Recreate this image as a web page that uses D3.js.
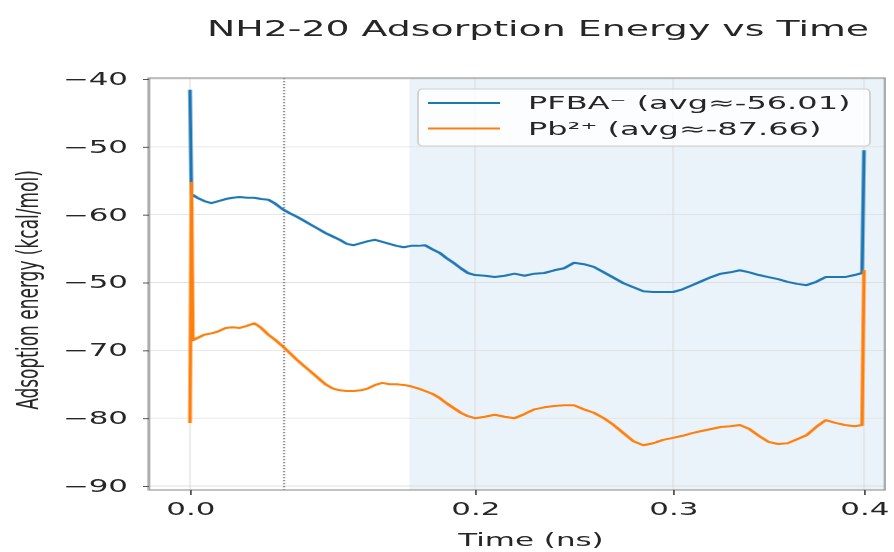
<!DOCTYPE html>
<html>
<head>
<meta charset="utf-8">
<script src="https://cdn.jsdelivr.net/npm/d3@7"></script>
<style>
  html, body { margin: 0; padding: 0; background: #fff; }
  svg { display: block; }
  text { font-family: "DejaVu Sans", sans-serif; fill: #262626; }
</style>
</head>
<body>
<svg id="chart"></svg>
<script>
// Sampling times (ns)
const timeNs = [0, 0.001, 0.002, 0.005, 0.01, 0.015, 0.02, 0.025, 0.03, 0.035, 0.04, 0.045, 0.05,
  0.055, 0.06, 0.065, 0.07, 0.075, 0.08, 0.085, 0.09, 0.095, 0.1, 0.105, 0.11, 0.115, 0.12, 0.125,
  0.13, 0.135, 0.14, 0.145, 0.15, 0.155, 0.16, 0.165, 0.17, 0.175, 0.18, 0.185, 0.19, 0.195, 0.2,
  0.205, 0.21, 0.215, 0.22, 0.225, 0.23, 0.235, 0.24, 0.245, 0.25, 0.255, 0.26, 0.265, 0.27, 0.275,
  0.28, 0.285, 0.29, 0.295, 0.3, 0.305, 0.31, 0.315, 0.32, 0.325, 0.33, 0.335, 0.34, 0.345, 0.35,
  0.355, 0.36, 0.365, 0.37, 0.375, 0.38, 0.385, 0.39, 0.395, 0.399, 0.4];

// Adsorption energy of PFBA⁻ (kcal/mol)
const pfbaEnergy = [-31.6, -47.0, -47.1, -47.5, -48.0, -48.3, -48.0, -47.7, -47.5, -47.4, -47.5, -47.5,
  -47.7, -47.8, -48.4, -49.2, -49.8, -50.3, -50.9, -51.5, -52.1, -52.7, -53.2, -53.7, -54.3, -54.5,
  -54.2, -53.9, -53.7, -54.0, -54.3, -54.6, -54.8, -54.6, -54.6, -54.5, -55.1, -55.6, -56.4, -57.1,
  -57.9, -58.6, -58.9, -59.0, -59.2, -59.0, -58.7, -59.0, -58.7, -58.6, -58.2, -57.9, -57.1, -57.3,
  -57.7, -58.5, -59.3, -60.1, -60.7, -61.3, -61.4, -61.4, -61.4, -61.0, -60.4, -59.8, -59.2, -58.7,
  -58.5, -58.2, -58.5, -58.9, -59.2, -59.5, -59.9, -60.2, -60.4, -59.9, -59.2, -59.2, -59.2, -58.9,
  -58.6, -40.5];

// Adsorption energy of Pb²⁺ (kcal/mol)
const pbEnergy = [-80.7, -45.3, -68.5, -68.2, -67.7, -67.5, -67.2, -66.7, -66.6, -66.7, -66.4, -66.0,
  -66.7, -67.7, -68.5, -69.4, -70.4, -71.4, -72.3, -73.2, -74.1, -75.0, -75.6, -75.9, -76.0, -76.0,
  -75.9, -75.6, -75.1, -74.8, -75.0, -75.0, -75.1, -75.3, -75.6, -76.0, -76.4, -77.0, -77.8, -78.5,
  -79.2, -79.7, -80.0, -79.8, -79.5, -79.8, -80.0, -79.4, -78.7, -78.4, -78.2, -78.1, -78.1, -78.7,
  -79.2, -80.0, -81.0, -82.2, -83.4, -84.0, -83.7, -83.2, -82.9, -82.6, -82.2, -81.9, -81.6, -81.3,
  -81.2, -81.0, -81.6, -82.6, -83.5, -83.8, -83.7, -83.1, -82.5, -81.3, -80.3, -80.7, -81.0, -81.2,
  -81.0, -58.2];

const seriesNames = ["PFBA⁻ (avg≈-56.01)", "Pb²⁺ (avg≈-87.66)"];
const seriesColors = ["#1f77b4", "#ff7f0e"];

const xTickValues = [0, 0.2, 0.3, 0.4];
const xTickLabels = ["0.0", "0.2", "0.3", "0.4"];
const yTickValues = [-30, -40, -50, -60, -70, -80, -90];
const yTickLabels = ["−40", "−50", "−60", "−50", "−70", "−80", "−90"];

const markerTime = 0.066;   // dotted reference line
const shadeStart = 0.154;   // start of the shaded window

// ---- layout -------------------------------------------------------------
const W = 894, H = 552;
const SX = 1.82;                 // horizontal stretch of the whole drawing
const ix = px => px / SX;        // page px -> drawing units (x only)

const frame = { left: ix(149), right: ix(885), top: 78, bottom: 490 };

const svg = d3.select("#chart")
  .attr("width", W).attr("height", H)
  .attr("viewBox", `0 0 ${W / SX} ${H}`)
  .attr("preserveAspectRatio", "none");

const defs = svg.append("defs");
defs.append("filter").attr("id", "soft")
  .attr("x", "-5%").attr("y", "-5%").attr("width", "110%").attr("height", "110%")
  .append("feGaussianBlur").attr("stdDeviation", "0.35 0.45");

const root = svg.append("g").attr("filter", "url(#soft)");

const x = d3.scaleLinear()
  .domain(xTickValues)
  .range([190, 475, 673, 864].map(ix));

const y = d3.scaleLinear()
  .domain([-90, -30])
  .range([486, 79]);

// shaded window
root.append("rect")
  .attr("x", x(shadeStart)).attr("y", frame.top)
  .attr("width", frame.right - x(shadeStart))
  .attr("height", frame.bottom - frame.top)
  .attr("fill", "#1f77b4").attr("fill-opacity", 0.085);

// grid
const grid = root.append("g").attr("stroke", "#d9d9d9");
grid.selectAll("line.h").data(yTickValues).join("line")
  .attr("x1", frame.left).attr("x2", frame.right)
  .attr("y1", d => y(d)).attr("y2", d => y(d))
  .attr("stroke-width", 0.9).attr("stroke-opacity", 0.8);
grid.selectAll("line.v").data(xTickValues).join("line")
  .attr("x1", d => x(d)).attr("x2", d => x(d))
  .attr("y1", frame.top).attr("y2", frame.bottom)
  .attr("stroke-width", 0.7).attr("stroke-opacity", 0.8);

// dotted marker
root.append("line")
  .attr("x1", x(markerTime)).attr("x2", x(markerTime))
  .attr("y1", frame.top).attr("y2", frame.bottom)
  .attr("stroke", "#555").attr("stroke-width", 0.8)
  .attr("stroke-dasharray", "1.2,1.8");

// series
const line = d3.line().x((d, i) => x(timeNs[i])).y(d => y(d));
[pfbaEnergy, pbEnergy].forEach((vals, k) => {
  root.append("path")
    .datum(vals)
    .attr("d", line)
    .attr("fill", "none")
    .attr("stroke", seriesColors[k])
    .attr("stroke-width", 2)
    .attr("stroke-linejoin", "round");
});

// frame
root.append("rect")
  .attr("x", frame.left).attr("y", frame.top)
  .attr("width", frame.right - frame.left).attr("height", frame.bottom - frame.top)
  .attr("fill", "none").attr("stroke", "#9a9a9a").attr("stroke-width", 1.2);

// axes
const yAxis = root.append("g")
  .attr("transform", `translate(${frame.left},0)`)
  .call(d3.axisLeft(y)
    .tickValues(yTickValues)
    .tickFormat((d, i) => yTickLabels[i])
    .tickSize(ix(6)).tickPadding(ix(15)));
yAxis.select(".domain").remove();
yAxis.selectAll(".tick line").attr("stroke", "#555").attr("stroke-width", 1);
yAxis.selectAll(".tick text")
  .attr("font-size", 17).attr("font-family", "DejaVu Sans, sans-serif")
  .attr("fill", "#262626");

const xAxis = root.append("g")
  .attr("transform", `translate(0,${frame.bottom})`)
  .call(d3.axisBottom(x)
    .tickValues(xTickValues)
    .tickFormat((d, i) => xTickLabels[i])
    .tickSize(5).tickPadding(8));
xAxis.select(".domain").remove();
xAxis.selectAll(".tick line").attr("stroke", "#555").attr("stroke-width", 1);
xAxis.selectAll(".tick text")
  .attr("font-size", 17).attr("font-family", "DejaVu Sans, sans-serif")
  .attr("fill", "#262626");

// axis titles and chart title
root.append("text")
  .attr("x", ix(538)).attr("y", 36)
  .attr("text-anchor", "middle")
  .attr("font-size", 20.8)
  .text("NH2-20 Adsorption Energy vs Time");

root.append("text")
  .attr("x", ix(531)).attr("y", 546)
  .attr("text-anchor", "middle")
  .attr("font-size", 17)
  .text("Time (ns)");

root.append("text")
  .attr("transform", `translate(${ix(38)},290) rotate(-90)`)
  .attr("text-anchor", "middle")
  .attr("font-size", 17)
  .text("Adsoption energy (kcal/mol)");

// legend
const lg = root.append("g");
lg.append("rect")
  .attr("x", ix(418)).attr("y", 89)
  .attr("width", ix(870) - ix(418)).attr("height", 57)
  .attr("rx", ix(4)).attr("ry", 4)
  .attr("fill", "#fff").attr("fill-opacity", 0.8)
  .attr("stroke", "#d0d0d0").attr("stroke-width", 1);
seriesNames.forEach((name, k) => {
  const cy = 103 + k * 25.5;
  lg.append("line")
    .attr("x1", ix(428)).attr("x2", ix(500))
    .attr("y1", cy).attr("y2", cy)
    .attr("stroke", seriesColors[k]).attr("stroke-width", 2);
  lg.append("text")
    .attr("x", ix(528)).attr("y", cy)
    .attr("dy", "0.36em")
    .attr("font-size", 17.6)
    .text(name);
});
</script>
</body>
</html>
